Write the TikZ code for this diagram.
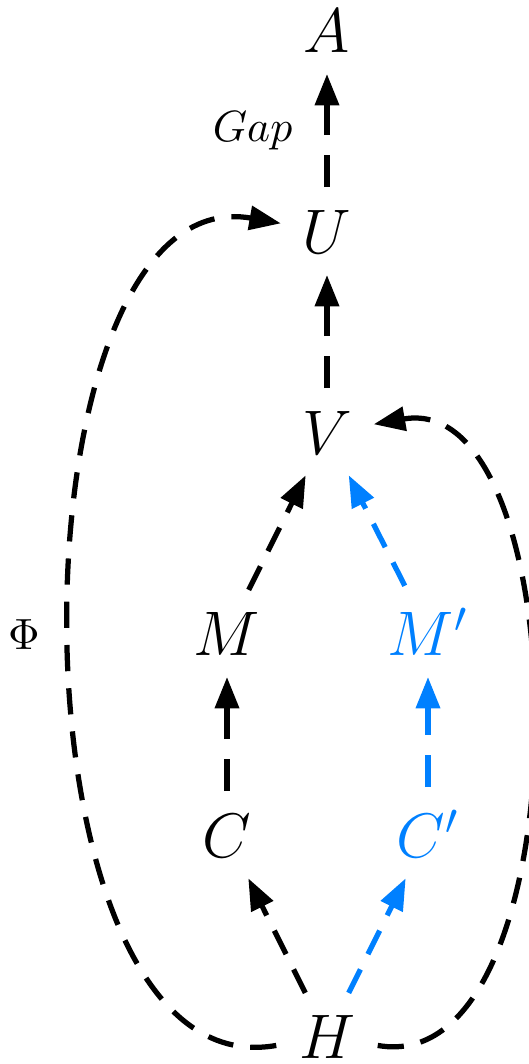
\documentclass[tikz,border=0pt]{standalone}
\usepackage{xcolor}
\usepackage{tikz}
\usetikzlibrary{arrows.meta}
\definecolor{primeblue}{RGB}{0,128,255}
\tikzset{
  var/.style={font=\Large, anchor=base, inner sep=3.33pt},
  primevar/.style={var, text=primeblue},
  arrow/.style={-{Triangle[length=7.2pt,width=5.4pt]}, line width=1.2pt,
    dash pattern=on 6pt off 3.9pt, shorten <=1.7pt, shorten >=1.5pt},
  primearrow/.style={arrow, color=primeblue},
  longdash/.style={dash pattern=on 7.4pt off 4.5pt},
  lbl/.style={font=\normalsize}
}
\begin{document}
\begin{tikzpicture}[x=0.2287pt, y=-0.2287pt]
  \useasboundingbox (0,0) rectangle (529,1064);

  % Main column
  \node[var] (A) at (327,52) {$A$};
  \node[var] (U) at (327,253) {$U$};
  \node[var] (V) at (327,454) {$V$};

  % Two branches
  \node[var] (M) at (227,655) {$M$};
  \node[var] (C) at (227,857) {$C$};
  \node[primevar] (Mp) at (428,655) {$M'$};
  \node[primevar] (Cp) at (428,857) {$C'$};

  % Bottom
  \node[var] (H) at (327,1058) {$H$};

  % Arrows -- main column
  \draw[arrow, longdash] (U) -- node[lbl, left=4pt] {$Gap$} (A);
  \draw[arrow, longdash] (V) -- (U);

  % Arrows -- branches
  \draw[arrow] (M) -- (V);
  \draw[primearrow] (Mp) -- (V);
  \draw[arrow, longdash] (C) -- (M);
  \draw[primearrow, longdash] (Cp) -- (Mp);
  \draw[arrow] (H) -- (C);
  \draw[primearrow] (H) -- (Cp);

  % Loops round the outside
  \draw[arrow] (H) to[out=190, in=170, looseness=0.9] node[lbl, left=3.5pt] {$\Phi$} (U);
  \draw[arrow] (H) to[out=-10, in=10, looseness=0.9] (V);
\end{tikzpicture}
\end{document}
